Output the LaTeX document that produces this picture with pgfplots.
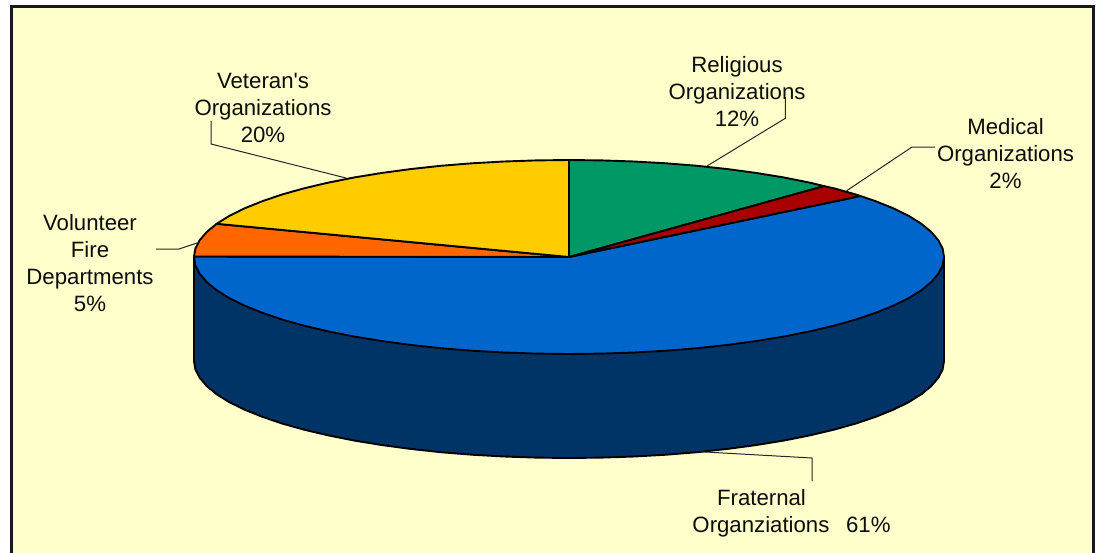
\documentclass[border=0pt]{standalone}
\usepackage{fontspec}
\newfontfamily\lsans{Liberation Sans}
\usepackage{pgfplots}
\pgfplotsset{compat=1.18}
\definecolor{paper}{HTML}{FFFFCC}
\definecolor{cGreen}{HTML}{009966}
\definecolor{cRed}{HTML}{A80000}
\definecolor{cBlue}{HTML}{0066CC}
\definecolor{cNavy}{HTML}{003366}
\definecolor{cOrange}{HTML}{FF6600}
\definecolor{cYellow}{HTML}{FFCC00}
\tikzset{
  slice/.style={draw=black, line width=1.9pt, line join=round},
  leader/.style={draw=black!85, line width=1pt, line join=miter},
  lab/.style={font=\lsans\fontsize{22.2}{27}\selectfont, align=center, anchor=north, inner sep=0pt, text=black!95},
}
\begin{document}
\begin{tikzpicture}
\begin{axis}[
  scale only axis, width=1099pt, height=552pt,
  xmin=0, xmax=1099, ymin=0, ymax=552, y dir=reverse,
  hide axis, clip=true,
]
% page and frame
\addplot[fill=white, draw=none] coordinates {(0,0) (1099,0) (1099,552) (0,552)} --cycle;
\addplot[fill=paper, draw=black!90, line width=3pt] coordinates {(11.5,6.5) (1093.5,6.5) (1093.5,570) (11.5,570)} --cycle;
% side of the pie
\addplot[slice, fill=cNavy] coordinates {
(194,257) (194,361) (195.4,369.5) (199.7,377.8) (206.8,386.1) (216.6,394.2) (229.1,402) (244.2,409.5) (261.8,416.6) (281.7,423.4) (303.8,429.6) (327.9,435.3) (353.9,440.5) (381.5,445) (410.5,448.9) (440.7,452.2) (471.9,454.7) (503.9,456.5) (536.3,457.6) (569,458)
(601.7,457.6) (634.1,456.5) (666.1,454.7) (697.3,452.2) (727.5,448.9) (756.5,445) (784.1,440.5) (810.1,435.3) (834.2,429.6) (856.3,423.4) (876.2,416.6) (893.8,409.5) (908.9,402) (921.4,394.2) (931.2,386.1) (938.3,377.8) (942.6,369.5) (944,361) (944,257)
} --cycle;
% Fraternal Organizations 61
\addplot[slice, fill=cBlue] coordinates {
(569,257) (860.4,196) (876.2,201.4) (893.8,208.5) (908.9,216) (921.4,223.8) (931.2,231.9) (938.3,240.2) (942.6,248.5) (944,257)
(942.6,265.5) (938.3,273.8) (931.2,282.1) (921.4,290.2) (908.9,298) (893.8,305.5) (876.2,312.6) (856.3,319.4) (834.2,325.6) (810.1,331.3) (784.1,336.5) (756.5,341) (727.5,344.9) (697.3,348.2) (666.1,350.7) (634.1,352.5) (601.7,353.6) (569,354)
(536.3,353.6) (503.9,352.5) (471.9,350.7) (440.7,348.2) (410.5,344.9) (381.5,341) (353.9,336.5) (327.9,331.3) (303.8,325.6) (281.7,319.4) (261.8,312.6) (244.2,305.5) (229.1,298) (216.6,290.2) (206.8,282.1) (199.7,273.8) (195.4,265.5) (194,256.5)
} --cycle;
% Volunteer Fire Departments 5
\addplot[slice, fill=cOrange] coordinates {
(569,257) (194,256.5) (195.4,248.5) (199.7,240.2) (206.8,231.9) (216.6,223.8)
} --cycle;
% Veteran's Organizations 20
\addplot[slice, fill=cYellow] coordinates {
(569,257) (216.6,223.8) (229.1,216) (244.2,208.5) (261.8,201.4) (281.7,194.6) (303.8,188.4) (327.9,182.7) (353.9,177.5) (381.5,173) (410.5,169.1) (440.7,165.8) (471.9,163.3) (503.9,161.5) (536.3,160.4) (569,160)
} --cycle;
% Religious Organizations 12
\addplot[slice, fill=cGreen] coordinates {
(569,257) (569,160) (601.7,160.4) (634.1,161.5) (666.1,163.3) (697.3,165.8) (727.5,169.1) (756.5,173) (784.1,177.5) (810.1,182.7) (824,186.1)
} --cycle;
% Medical Organizations 2
\addplot[slice, fill=cRed] coordinates {
(569,257) (824,186.1) (834.2,188.4) (856.3,194.6) (860.4,196)
} --cycle;
% leader lines
\addplot[leader] coordinates {(211,121) (211,144) (346,178)};
\addplot[leader] coordinates {(156,249) (179,249) (197,243)};
\addplot[leader] coordinates {(785.3,97) (785.3,118.3) (707,166)};
\addplot[leader] coordinates {(935,147) (912,147) (846.7,190.7)};
\addplot[leader] coordinates {(812,481) (812,458) (700,451.7)};
% labels
\node[lab] at (axis cs:263,72.6) {Veteran's\\Organizations\\20\%};
\node[lab] at (axis cs:90,214) {Volunteer\\Fire\\Departments\\5\%};
\node[lab] at (axis cs:737,56.6) {Religious\\Organizations\\12\%};
\node[lab] at (axis cs:1005.5,118.6) {Medical\\Organizations\\2\%};
\node[lab] at (axis cs:791.5,489) {Fraternal\hspace*{60pt}\\Organziations\hspace{0.75em}61\%};
\end{axis}
\end{tikzpicture}
\end{document}
